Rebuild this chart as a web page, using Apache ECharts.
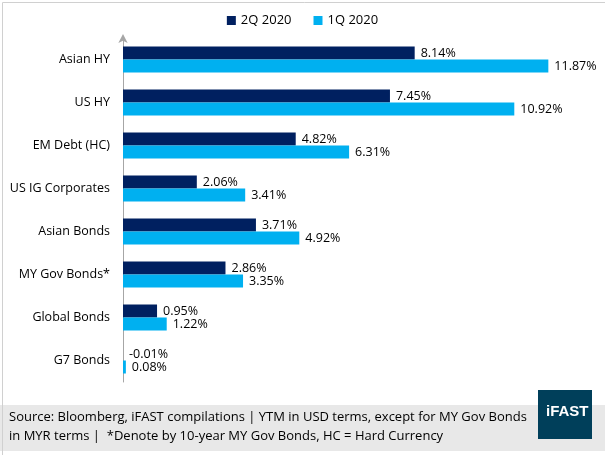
<!DOCTYPE html>
<html><head><meta charset="utf-8">
<script src="https://cdn.jsdelivr.net/npm/echarts@6/dist/echarts.min.js"></script>
<style>html,body{margin:0;padding:0;background:#fff}#c{width:605px;height:455px}</style>
</head><body><div id="c"></div>
<script>
const categories = ["Asian HY","US HY","EM Debt (HC)","US IG Corporates","Asian Bonds","MY Gov Bonds*","Global Bonds","G7 Bonds"];
const q2 = [8.14,7.45,4.82,2.06,3.71,2.86,0.95,-0.01];
const q1 = [11.87,10.92,6.31,3.41,4.92,3.35,1.22,0.08];
const seriesNames = ["2Q 2020","1Q 2020"];
const sourceLines = ["Source: Bloomberg, iFAST compilations | YTM in USD terms, except for MY Gov Bonds","in MYR terms |  *Denote by 10-year MY Gov Bonds, HC = Hard Currency"];
const FONT = "'Open Sans', sans-serif";
const chart = echarts.init(document.getElementById('c'));
const lbl = {show:true, position:'right', distance:6, color:'#000', fontSize:12.5, fontFamily:FONT, formatter: p => p.value.toFixed(2)+'%'};
chart.setOption({
  animation:false,
  legend:{top:9, left:'center', itemWidth:9, itemHeight:9, itemGap:22, icon:'rect',
    textStyle:{fontSize:13, fontFamily:FONT, color:'#000'}, data:seriesNames},
  grid:{left:123, right:52, top:38, bottom:73},
  xAxis:{type:'value', min:0, max:12, show:false},
  yAxis:{type:'category', data:categories, inverse:true,
    axisLine:{show:true, lineStyle:{color:'#a6a6a6', width:1}, symbol:['none','arrow'], symbolSize:[7,9], symbolOffset:[0,4]},
    axisTick:{show:false},
    axisLabel:{fontSize:12.5, fontFamily:FONT, color:'#000', margin:13}},
  series:[
    {name:seriesNames[0], type:'bar', data:q2, barWidth:13, barGap:'0%', itemStyle:{color:'#002060'}, label:lbl},
    {name:seriesNames[1], type:'bar', data:q1, barWidth:13, barGap:'0%', itemStyle:{color:'#00B0F0'}, label:lbl}
  ],
  graphic:[
    {type:'rect', left:0, top:405, shape:{width:605, height:46}, style:{fill:'#e8e8e8'}, silent:true, z:-1},
    {type:'rect', left:538, top:390, shape:{width:54, height:49}, style:{fill:'#003f5a'}, z:1},
    {type:'text', left:546, top:404, style:{text:'iFAST', fill:'#fff', font:"bold 15px 'Liberation Sans Narrow', 'Liberation Sans', sans-serif"}, z:2},
    {type:'text', left:9, top:411, style:{text:sourceLines[0], fill:'#000', font:"13px "+FONT}, z:2},
    {type:'text', left:9, top:430, style:{text:sourceLines[1], fill:'#000', font:"13px "+FONT}, z:2},
    {type:'rect', left:0, top:0, shape:{width:604, height:454}, style:{fill:'none', stroke:'#d0d0d0', lineWidth:1}, z:3}
  ]
});
</script></body></html>
